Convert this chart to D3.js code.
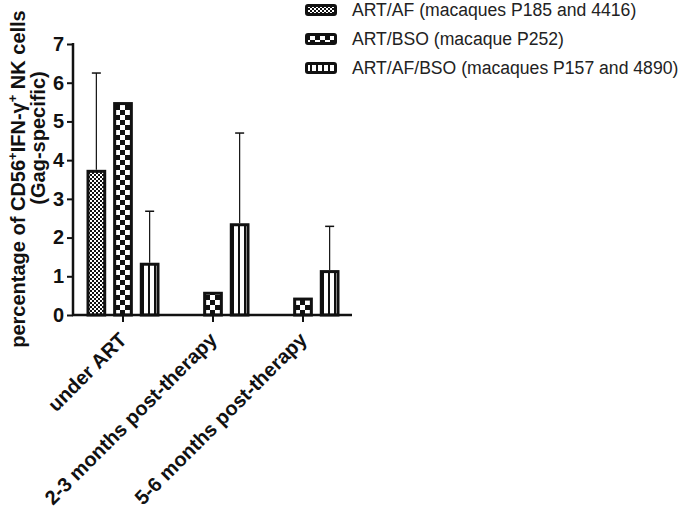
<!DOCTYPE html>
<html><head><meta charset="utf-8">
<script src="https://cdn.jsdelivr.net/npm/d3@7"></script>
<style>body{margin:0;background:#fff}svg{display:block}</style>
</head><body>
<script>
const categories = ["under ART", "2-3 months post-therapy", "5-6 months post-therapy"];
const seriesNames = ["ART/AF (macaques P185 and 4416)", "ART/BSO (macaque P252)", "ART/AF/BSO (macaques P157 and 4890)"];
const artAF = [3.75, null, null];
const artAFErr = [2.5, null, null];
const artBSO = [5.5, 0.6, 0.45];
const artBSOErr = [null, null, null];
const artAFBSO = [1.35, 2.37, 1.16];
const artAFBSOErr = [1.33, 2.33, 1.13];
const yTicks = [0, 1, 2, 3, 4, 5, 6, 7];

const W = 680, H = 515;
const svg = d3.select("body").append("svg").attr("width", W).attr("height", H);
const defs = svg.append("defs");
let p = defs.append("pattern").attr("id","pAF").attr("patternUnits","userSpaceOnUse").attr("width",4).attr("height",4);
p.append("rect").attr("width",4).attr("height",4).attr("fill","#fff");
p.append("rect").attr("width",2).attr("height",2).attr("fill","#111");
p.append("rect").attr("x",2).attr("y",2).attr("width",2).attr("height",2).attr("fill","#111");
p = defs.append("pattern").attr("id","pBSO").attr("patternUnits","userSpaceOnUse").attr("width",10).attr("height",10);
p.append("rect").attr("width",10).attr("height",10).attr("fill","#fff");
p.append("rect").attr("width",5).attr("height",5).attr("fill","#111");
p.append("rect").attr("x",5).attr("y",5).attr("width",5).attr("height",5).attr("fill","#111");
p = defs.append("pattern").attr("id","pAFBSO").attr("patternUnits","userSpaceOnUse").attr("width",6).attr("height",6);
p.append("rect").attr("width",6).attr("height",6).attr("fill","#fff");
p.append("rect").attr("x",4).attr("width",2).attr("height",6).attr("fill","#111");

const fills = ["url(#pAF)", "url(#pBSO)", "url(#pAFBSO)"];
const series = [
  {vals: artAF, errs: artAFErr},
  {vals: artBSO, errs: artBSOErr},
  {vals: artAFBSO, errs: artAFBSOErr}
];

const y = d3.scaleLinear().domain([0, 7]).range([315, 44]);
const x = d3.scaleBand().domain(categories).range([78, 348]);
const xs = d3.scaleBand().domain([0,1,2]).range([-36.5, 36.5]).paddingInner(0.26);

const g = svg.append("g");
series.forEach((s, si) => {
  categories.forEach((c, ci) => {
    const v = s.vals[ci];
    if (v == null) return;
    const bx = x(c) + x.bandwidth()/2 + xs(si);
    const bw = xs.bandwidth();
    const e = s.errs[ci];
    const cx = bx + bw/2;
    if (e != null) {
      g.append("line").attr("x1",cx).attr("x2",cx).attr("y1",y(v)).attr("y2",y(v+e)).attr("stroke","#111").attr("stroke-width",1.2);
      g.append("line").attr("x1",cx-4.5).attr("x2",cx+4.5).attr("y1",y(v+e)).attr("y2",y(v+e)).attr("stroke","#111").attr("stroke-width",1.5);
    }
    g.append("rect").attr("x", bx+1.5).attr("y", y(v)+1.5).attr("width", bw-3).attr("height", y(0)-y(v)-1.5)
      .attr("fill", fills[si]).attr("stroke","#111").attr("stroke-width",3);
  });
});

const font = "Liberation Sans, Arial, sans-serif";
const yAxis = svg.append("g").attr("transform","translate(73,0)")
  .call(d3.axisLeft(y).tickValues(yTicks).tickSize(6).tickPadding(3).tickFormat(d3.format("d")));
yAxis.select(".domain").attr("d", `M0,${y(7)-1}V${y(0)+1}`).attr("stroke","#111").attr("stroke-width",2.5);
yAxis.selectAll(".tick line").attr("stroke","#111").attr("stroke-width",2);
yAxis.selectAll(".tick text").attr("font-family",font).attr("font-weight","bold").attr("font-size",20).attr("fill","#111");

const xAxis = svg.append("g").attr("transform",`translate(0,${y(0)})`)
  .call(d3.axisBottom(x).tickSize(7).tickSizeOuter(0));
xAxis.select(".domain").attr("d","M72,0H352").attr("stroke","#111").attr("stroke-width",2.5);
xAxis.selectAll(".tick line").attr("stroke","#111").attr("stroke-width",2);
xAxis.selectAll(".tick text").attr("font-family",font).attr("font-weight","bold").attr("font-size",20).attr("fill","#111")
  .attr("text-anchor","end").attr("dy",0).attr("y",0)
  .attr("transform","translate(5,26) rotate(-45)");

const t1 = svg.append("text").attr("transform","translate(25,179) rotate(-90)").attr("text-anchor","middle")
  .attr("font-family",font).attr("font-weight","bold").attr("font-size",20).attr("fill","#111");
t1.append("tspan").text("percentage of CD56");
t1.append("tspan").text("+").attr("font-size",13).attr("dy",-8);
t1.append("tspan").text("IFN-γ").attr("dy",8);
t1.append("tspan").text("+").attr("font-size",13).attr("dy",-8);
t1.append("tspan").text(" NK cells").attr("dy",8);
svg.append("text").attr("transform","translate(45,138) rotate(-90)").attr("text-anchor","middle")
  .attr("font-family",font).attr("font-weight","bold").attr("font-size",20).attr("fill","#111").text("(Gag-specific)");

const lg = svg.append("g");
seriesNames.forEach((n, i) => {
  const ly = 10 + i*29;
  lg.append("rect").attr("x",306.5).attr("y",ly-4.5).attr("width",29).attr("height",9).attr("rx",1.5)
    .attr("fill",fills[i]).attr("stroke","#111").attr("stroke-width",3);
  lg.append("text").attr("x",352).attr("y",ly).attr("dy","0.36em").attr("font-family",font).attr("font-size",17.6).attr("fill","#222").text(n);
});
</script>
</body></html>
